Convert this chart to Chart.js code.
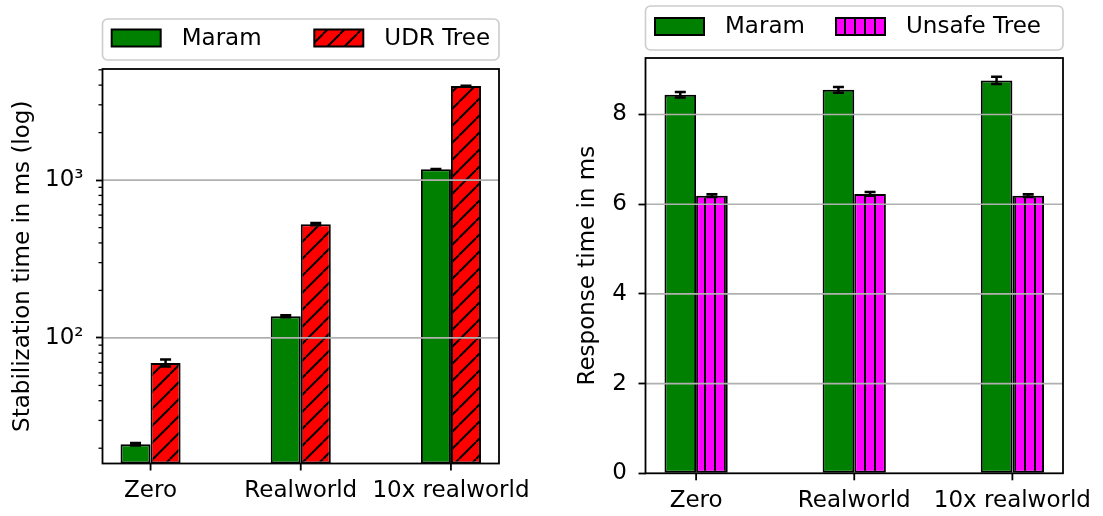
<!DOCTYPE html>
<html>
<head>
<meta charset="utf-8">
<script src="https://cdn.jsdelivr.net/npm/chart.js@4.4.1/dist/chart.umd.min.js"></script>
<style>
  body { margin: 0; background: #fff; }
  #wrap { position: relative; width: 1103px; height: 516px; }
  .panel { position: absolute; top: 0; height: 516px; }
</style>
</head>
<body>
<div id="wrap">
  <div class="panel" style="left:0;width:550px"><canvas id="stabChart"></canvas></div>
  <div class="panel" style="left:550px;width:553px"><canvas id="respChart"></canvas></div>
</div>
<script>
const categories = ['Zero', 'Realworld', '10x realworld'];

// left panel: stabilization time (log scale)
const stabMaram = [21.2, 137, 1170];
const stabMaramErr = [0.4, 2, 6];
const stabUdr = [69.4, 526, 3945];
const stabUdrErr = [3.6, 8, 15];
const stabTicks = [20, 30, 40, 50, 60, 70, 80, 90, 100, 200, 300, 400, 500, 600, 700, 800, 900, 1000, 2000, 3000, 4000, 5000];

// right panel: response time
const respMaram = [8.44, 8.55, 8.76];
const respMaramErr = [0.06, 0.065, 0.08];
const respUnsafe = [6.19, 6.23, 6.19];
const respUnsafeErr = [0.03, 0.04, 0.03];
const respTicks = [0, 2, 4, 6, 8];

Chart.defaults.font.family = "'DejaVu Sans'";
Chart.defaults.font.size = 23;
Chart.defaults.color = '#000';

// hatch fill like matplotlib '//' and '|||'
function hatch(color, kind) {
    const s = kind === 'diag' ? 17 : 10;
    const c = document.createElement('canvas');
    c.width = s; c.height = s;
    const g = c.getContext('2d');
    g.fillStyle = color;
    g.fillRect(0, 0, s, s);
    g.strokeStyle = '#000';
    g.lineWidth = 2;
    g.beginPath();
    if (kind === 'diag') {
        [-s, 0, s].forEach(k => { g.moveTo(k, s); g.lineTo(k + s, 0); });
    } else {
        g.moveTo(s / 2, 0); g.lineTo(s / 2, s);
    }
    g.stroke();
    return g.createPattern(c, 'repeat');
}

const toPoints = arr => arr.map((v, i) => ({ x: i, y: v }));

// grid over the bars, tick marks, error bars, frame and boxed legend
const decor = {
    id: 'decor',
    afterDatasetsDraw(chart) {
        const ctx = chart.ctx;
        const a = chart.chartArea;
        const x = chart.scales.x;
        const y = chart.scales.y;
        ctx.save();
        ctx.strokeStyle = '#b0b0b0';
        ctx.lineWidth = 1.6;
        y.ticks.forEach(t => {
            if (!t.major) return;
            const py = y.getPixelForValue(t.value);
            if (py < a.top + 2 || py > a.bottom - 2) return;
            ctx.beginPath(); ctx.moveTo(a.left, py); ctx.lineTo(a.right, py); ctx.stroke();
        });
        // minor y ticks and x ticks
        ctx.strokeStyle = '#000';
        ctx.lineWidth = 1.3;
        y.ticks.forEach(t => {
            if (t.major) return;
            const py = y.getPixelForValue(t.value);
            ctx.beginPath(); ctx.moveTo(a.left - 4, py); ctx.lineTo(a.left, py); ctx.stroke();
        });
        ctx.lineWidth = 1.8;
        x.ticks.forEach(t => {
            const px = x.getPixelForValue(t.value);
            ctx.beginPath(); ctx.moveTo(px, a.bottom); ctx.lineTo(px, a.bottom + 7); ctx.stroke();
        });
        // error bars
        ctx.lineWidth = 2.5;
        chart.data.datasets.forEach((ds, di) => {
            const meta = chart.getDatasetMeta(di);
            meta.data.forEach((el, i) => {
                const v = ds.data[i].y, e = ds.errors[i];
                const y1 = y.getPixelForValue(v - e), y2 = y.getPixelForValue(v + e);
                ctx.beginPath();
                ctx.moveTo(el.x, y1); ctx.lineTo(el.x, y2);
                ctx.moveTo(el.x - 5.5, y1); ctx.lineTo(el.x + 5.5, y1);
                ctx.moveTo(el.x - 5.5, y2); ctx.lineTo(el.x + 5.5, y2);
                ctx.stroke();
            });
        });
        // axes frame
        ctx.lineWidth = 1.8;
        ctx.strokeRect(a.left, a.top, a.right - a.left, a.bottom - a.top);
        ctx.restore();
    },
    afterDraw(chart, args, opts) {
        const ctx = chart.ctx;
        const a = chart.chartArea;
        ctx.save();
        ctx.beginPath();
        ctx.roundRect(a.left, opts.top, a.right - a.left, opts.height, 5);
        ctx.fillStyle = '#fff';
        ctx.fill();
        ctx.strokeStyle = '#cccccc';
        ctx.lineWidth = 1.6;
        ctx.stroke();
        const cy = opts.top + opts.height / 2 - 1.5;
        ctx.font = "23px 'DejaVu Sans'";
        ctx.textBaseline = 'middle';
        chart.data.datasets.forEach((ds, i) => {
            const x = a.left + opts.items[i];
            ctx.fillStyle = ds.backgroundColor;
            ctx.fillRect(x, cy - 8.5, 49, 17);
            ctx.strokeStyle = '#000';
            ctx.lineWidth = 2;
            ctx.strokeRect(x, cy - 8.5, 49, 17);
            ctx.fillStyle = '#000';
            ctx.fillText(ds.label, x + 70, cy + 1);
        });
        ctx.restore();
    }
};

function xAxis(height) {
    return {
        type: 'linear',
        min: -0.32,
        max: 2.32,
        offset: false,
        afterBuildTicks: s => { s.ticks = categories.map((c, i) => ({ value: i })); },
        afterFit: s => { s.height = height; },
        ticks: { callback: v => categories[v], autoSkip: false, maxRotation: 0, minRotation: 0, padding: 0 },
        grid: { display: false, tickLength: 14 },
        border: { display: false }
    };
}

function makeChart(id, datasets, yScale, padding, legend) {
    return new Chart(document.getElementById(id), {
        type: 'bar',
        data: { datasets: datasets },
        options: {
            responsive: true,
            maintainAspectRatio: false,
            animation: false,
            events: [],
            layout: { padding: padding },
            datasets: { bar: { categoryPercentage: 0.4, barPercentage: 1.0, borderColor: '#000', borderWidth: 2, borderSkipped: false } },
            plugins: { legend: { display: false }, tooltip: { enabled: false }, decor: legend },
            scales: { x: xAxis(516 - padding.top - yScale.plotHeight), y: yScale.opts }
        },
        plugins: [decor]
    });
}

// left chart
makeChart('stabChart', [
    { label: 'Maram', data: toPoints(stabMaram), errors: stabMaramErr, backgroundColor: '#008000' },
    { label: 'UDR Tree', data: toPoints(stabUdr), errors: stabUdrErr, backgroundColor: hatch('#ff0000', 'diag') }
], {
    plotHeight: 394.5,
    opts: {
        type: 'logarithmic',
        min: 16,
        max: 5060,
        afterBuildTicks: s => { s.ticks = stabTicks.map(v => ({ value: v, major: v === 100 || v === 1000 })); },
        afterFit: s => { s.width = 102.5; },
        ticks: { autoSkip: false, padding: 12.5, callback: v => v === 100 ? '10²' : v === 1000 ? '10³' : '' },
        grid: { drawOnChartArea: false, tickLength: 6.5, tickWidth: 1.8, tickColor: c => c.tick && c.tick.major ? '#000' : 'rgba(0,0,0,0)' },
        border: { display: false },
        title: { display: true, text: 'Stabilization time in ms (log)', padding: { top: 9, bottom: 0 } }
    }
}, { left: 0, right: 51, top: 69, bottom: 0 }, { top: 19, height: 41, items: [9.2, 211.8] });

// right chart
makeChart('respChart', [
    { label: 'Maram', data: toPoints(respMaram), errors: respMaramErr, backgroundColor: '#008000' },
    { label: 'Unsafe Tree', data: toPoints(respUnsafe), errors: respUnsafeErr, backgroundColor: hatch('#ff00ff', 'vert') }
], {
    plotHeight: 415.3,
    opts: {
        type: 'linear',
        min: 0,
        max: 9.26,
        afterBuildTicks: s => { s.ticks = respTicks.map(v => ({ value: v, major: true })); },
        afterFit: s => { s.width = 95.5; },
        ticks: { autoSkip: false, padding: 11.5 },
        grid: { drawOnChartArea: false, tickLength: 7, tickWidth: 1.8, tickColor: '#000' },
        border: { display: false },
        title: { display: true, text: 'Response time in ms', padding: { top: 24, bottom: 0 } }
    }
}, { left: 0, right: 40, top: 58, bottom: 0 }, { top: 6, height: 44, items: [9.5, 190.5] });
</script>
</body>
</html>
